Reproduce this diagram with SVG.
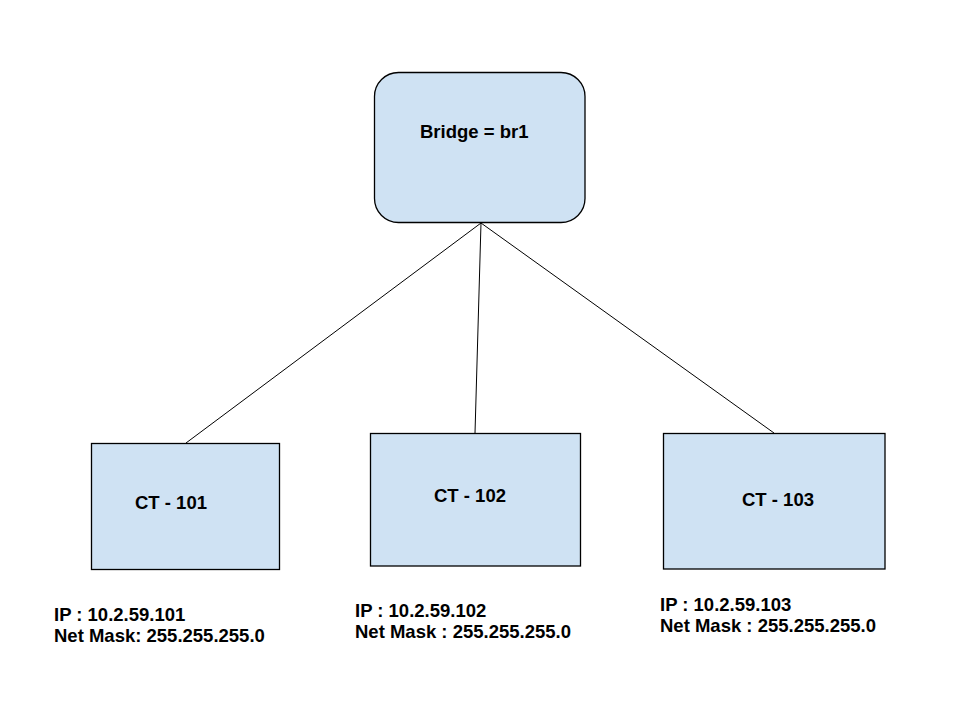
<svg xmlns="http://www.w3.org/2000/svg" width="960" height="720" viewBox="0 0 960 720">
<style>
.box{fill:#cfe2f3;stroke:#000;stroke-width:1.3}
.t{font-family:"Liberation Sans",Arial,sans-serif;font-weight:bold;font-size:18.5px;fill:#000}
.c{stroke:#000;stroke-width:1;fill:none}
</style>
<rect width="960" height="720" fill="#fff"/>
<g id="connectors">
<line class="c" x1="481" y1="223" x2="186" y2="443"/>
<line class="c" x1="481" y1="223" x2="475" y2="433"/>
<line class="c" x1="481" y1="223" x2="774" y2="433"/>
</g>
<g id="bridge">
<rect class="box" x="374.5" y="72.5" width="210.5" height="150" rx="24" ry="24"/>
<text class="t" x="420" y="138">Bridge = br1</text>
</g>
<g id="ct101">
<rect class="box" x="91.5" y="443.5" width="188" height="126"/>
<text class="t" x="135" y="509">CT - 101</text>
</g>
<g id="ct102">
<rect class="box" x="370.5" y="433.5" width="210" height="132.5"/>
<text class="t" x="434" y="502">CT - 102</text>
</g>
<g id="ct103">
<rect class="box" x="663.5" y="433.5" width="221.5" height="135.5"/>
<text class="t" x="742" y="506">CT - 103</text>
</g>
<g id="label101">
<text class="t" x="54" y="620.5">IP : 10.2.59.101</text>
<text class="t" x="54" y="642">Net Mask: 255.255.255.0</text>
</g>
<g id="label102">
<text class="t" x="355" y="616.5">IP : 10.2.59.102</text>
<text class="t" x="355" y="637.5">Net Mask : 255.255.255.0</text>
</g>
<g id="label103">
<text class="t" x="660" y="610.5">IP : 10.2.59.103</text>
<text class="t" x="660" y="631.5">Net Mask : 255.255.255.0</text>
</g>
</svg>
